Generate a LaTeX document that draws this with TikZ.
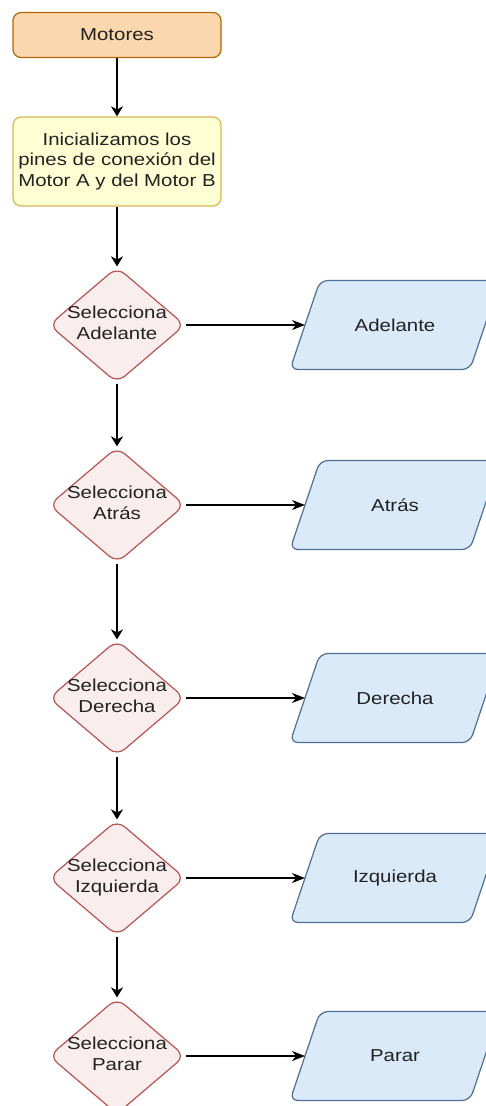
\documentclass[tikz,border=0pt]{standalone}
\usepackage{fontspec}
\setmainfont{Liberation Sans}[FakeStretch=1.18]
\usetikzlibrary{shapes.geometric,arrows.meta}

\definecolor{startfill}{HTML}{FAD7AC}
\definecolor{startline}{HTML}{B46504}
\definecolor{initfill}{HTML}{FFFFD4}
\definecolor{initline}{HTML}{D6B656}
\definecolor{decfill}{HTML}{F9EDED}
\definecolor{decline}{HTML}{B85450}
\definecolor{iofill}{HTML}{DAEAF8}
\definecolor{ioline}{HTML}{4F6F94}
\definecolor{inktext}{HTML}{222222}

\newcommand\flowfont{\fontsize{17.3pt}{20.7pt}\selectfont}
% two-line label that does not widen the diamond it sits in
\newcommand\twolines[2]{\makebox[0pt]{\begin{tabular}{@{}c@{}}#1\\#2\end{tabular}}}
% slanted input/output outline drawn behind the text node #1
\newcommand\ioframe[1]{%
  \path[ioshape] ([xshift=-105pt,yshift=-44.5pt]#1.center) -- ++(180pt,0pt)
    -- ++(30pt,89pt) -- ++(-180pt,0pt) -- cycle;}

\begin{document}
\begin{tikzpicture}[x=1pt,y=-1pt,
  every node/.style={font=\flowfont, text=inktext},
  procbox/.style={draw, rounded corners=8pt, line width=1.2pt,
    minimum width=208pt, inner sep=0pt, align=center},
  startbox/.style={procbox, fill=startfill, draw=startline, minimum height=45pt},
  initbox/.style={procbox, fill=initfill, draw=initline, minimum height=89pt},
  decision/.style={diamond, aspect=1.172, minimum width=136pt, minimum height=116pt,
    inner sep=0pt, rounded corners=10pt, line width=1.2pt, draw=decline, fill=decfill},
  ioshape/.style={draw=ioline, fill=iofill, rounded corners=8pt, line width=1.2pt},
  iotext/.style={inner sep=0pt, minimum width=180pt, minimum height=89pt},
  vflow/.style={-{Stealth[length=10pt,width=12pt,inset=3pt]}, line width=1.4pt},
  hflow/.style={-{Stealth[length=13pt,width=10pt,inset=4pt]}, line width=1.4pt}]

\useasboundingbox (0,0) rectangle (486,1106);
\clip (0,0) rectangle (486,1106);

% process boxes
\node[startbox] (motores) at (117,35) {Motores};
\node[initbox] (init) at (117,161.5)
  {Inicializamos los\\pines de conexión del\\Motor A y del Motor B};

% decisions
\node[decision] (d1) at (117,325)  {\twolines{Selecciona}{Adelante}};
\node[decision] (d2) at (117,505)  {\twolines{Selecciona}{Atrás}};
\node[decision] (d3) at (117,698)  {\twolines{Selecciona}{Derecha}};
\node[decision] (d4) at (117,878)  {\twolines{Selecciona}{Izquierda}};
\node[decision] (d5) at (117,1056) {\twolines{Selecciona}{Parar}};

% actions: outline first, then the text on top
\foreach \n/\y in {p1/325,p2/505,p3/698,p4/878,p5/1056}
  \coordinate (\n) at (395,\y);
\foreach \n in {p1,p2,p3,p4,p5} {\ioframe{\n}}
\node[iotext] (a1) at (p1) {Adelante};
\node[iotext] (a2) at (p2) {Atrás};
\node[iotext] (a3) at (p3) {Derecha};
\node[iotext] (a4) at (p4) {Izquierda};
\node[iotext] (a5) at (p5) {Parar};

% main flow
\draw[vflow] (motores.south) -- (init.north);
\draw[vflow] (init.south) -- (d1.north);
\draw[vflow] (d1.south) -- (d2.north);
\draw[vflow] (d2.south) -- (d3.north);
\draw[vflow] (d3.south) -- (d4.north);
\draw[vflow] (d4.south) -- (d5.north);

% branches to actions, ending on the slanted left edge
\draw[hflow] (d1.east) -- ([xshift=-90pt]p1);
\draw[hflow] (d2.east) -- ([xshift=-90pt]p2);
\draw[hflow] (d3.east) -- ([xshift=-90pt]p3);
\draw[hflow] (d4.east) -- ([xshift=-90pt]p4);
\draw[hflow] (d5.east) -- ([xshift=-90pt]p5);
\end{tikzpicture}
\end{document}
